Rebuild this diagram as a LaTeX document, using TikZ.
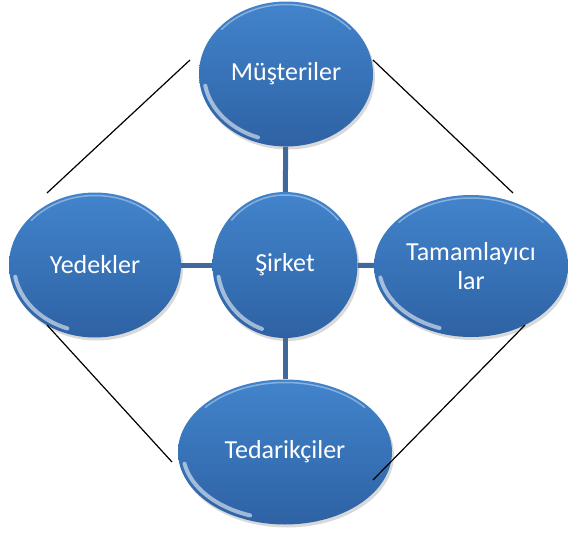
\documentclass[tikz,border=0pt]{standalone}
\usepackage{fontspec}
\setmainfont{Carlito}
\usetikzlibrary{shapes.geometric,shadows,calc}
\definecolor{ballTop}{RGB}{66,132,204}
\definecolor{ballBot}{RGB}{46,98,164}
\definecolor{linkBlue}{RGB}{64,104,156}
\tikzset{
  ball/.style={ellipse, draw=none, top color=ballTop, bottom color=ballBot,
    text=white, align=center, font=\fontsize{26}{29}\selectfont,
    drop shadow={opacity=.3, shadow xshift=2pt, shadow yshift=-3pt},
    path picture={
      \draw[white, opacity=.55, line width=4pt, line cap=round]
        let \p1=($(path picture bounding box.north east)-(path picture bounding box.center)$),
            \n1={\x1-5pt}, \n2={\y1-5pt} in
        ($(path picture bounding box.center)+(190:\n1 and \n2)$)
        arc[start angle=190, end angle=250, x radius=\n1, y radius=\n2];
      \draw[white!60!ballTop, opacity=.6, line width=1.5pt, line cap=round]
        let \p1=($(path picture bounding box.north east)-(path picture bounding box.center)$),
            \n1={\x1-3pt}, \n2={\y1-3pt} in
        ($(path picture bounding box.center)+(40:\n1 and \n2)$)
        arc[start angle=40, end angle=140, x radius=\n1, y radius=\n2];
    }},
  link/.style={linkBlue, line width=5pt},
  frame/.style={black, line width=1.2pt}
}
\begin{document}
\begin{tikzpicture}[x=1pt,y=-1pt]
\useasboundingbox (0,0) rectangle (568,536);
% balls
\node[ball, minimum width=174pt, minimum height=145pt] (must) at (286,74) {Müşteriler};
\node[ball, minimum width=145pt, minimum height=146pt] (sirket) at (285,265) {Şirket};
\node[ball, minimum width=172pt, minimum height=145pt] (yedek) at (95,265) {Yedekler};
\node[ball, minimum width=194pt, minimum height=142pt] (tamam) at (471,266) {Tamamlayıcı\\lar};
\node[ball, minimum width=214pt, minimum height=145pt] (tedar) at (285,452) {Tedarikçiler};
% links to the centre
\draw[link] (sirket) -- (must);
\draw[link] (sirket) -- (yedek);
\draw[link] (sirket) -- (tamam);
\draw[link] (sirket) -- (tedar);
% outer frame
\coordinate (a1) at (190,60);
\coordinate (a2) at (47,193);
\coordinate (b1) at (373,60);
\coordinate (b2) at (513,193);
\coordinate (c1) at (47,325);
\coordinate (c2) at (172,462);
\coordinate (d1) at (525,325);
\coordinate (d2) at (373,480);
\draw[frame] (a1) -- (a2);
\draw[frame] (b1) -- (b2);
\draw[frame] (c1) -- (c2);
\draw[frame] (d1) -- (d2);
\end{tikzpicture}
\end{document}
